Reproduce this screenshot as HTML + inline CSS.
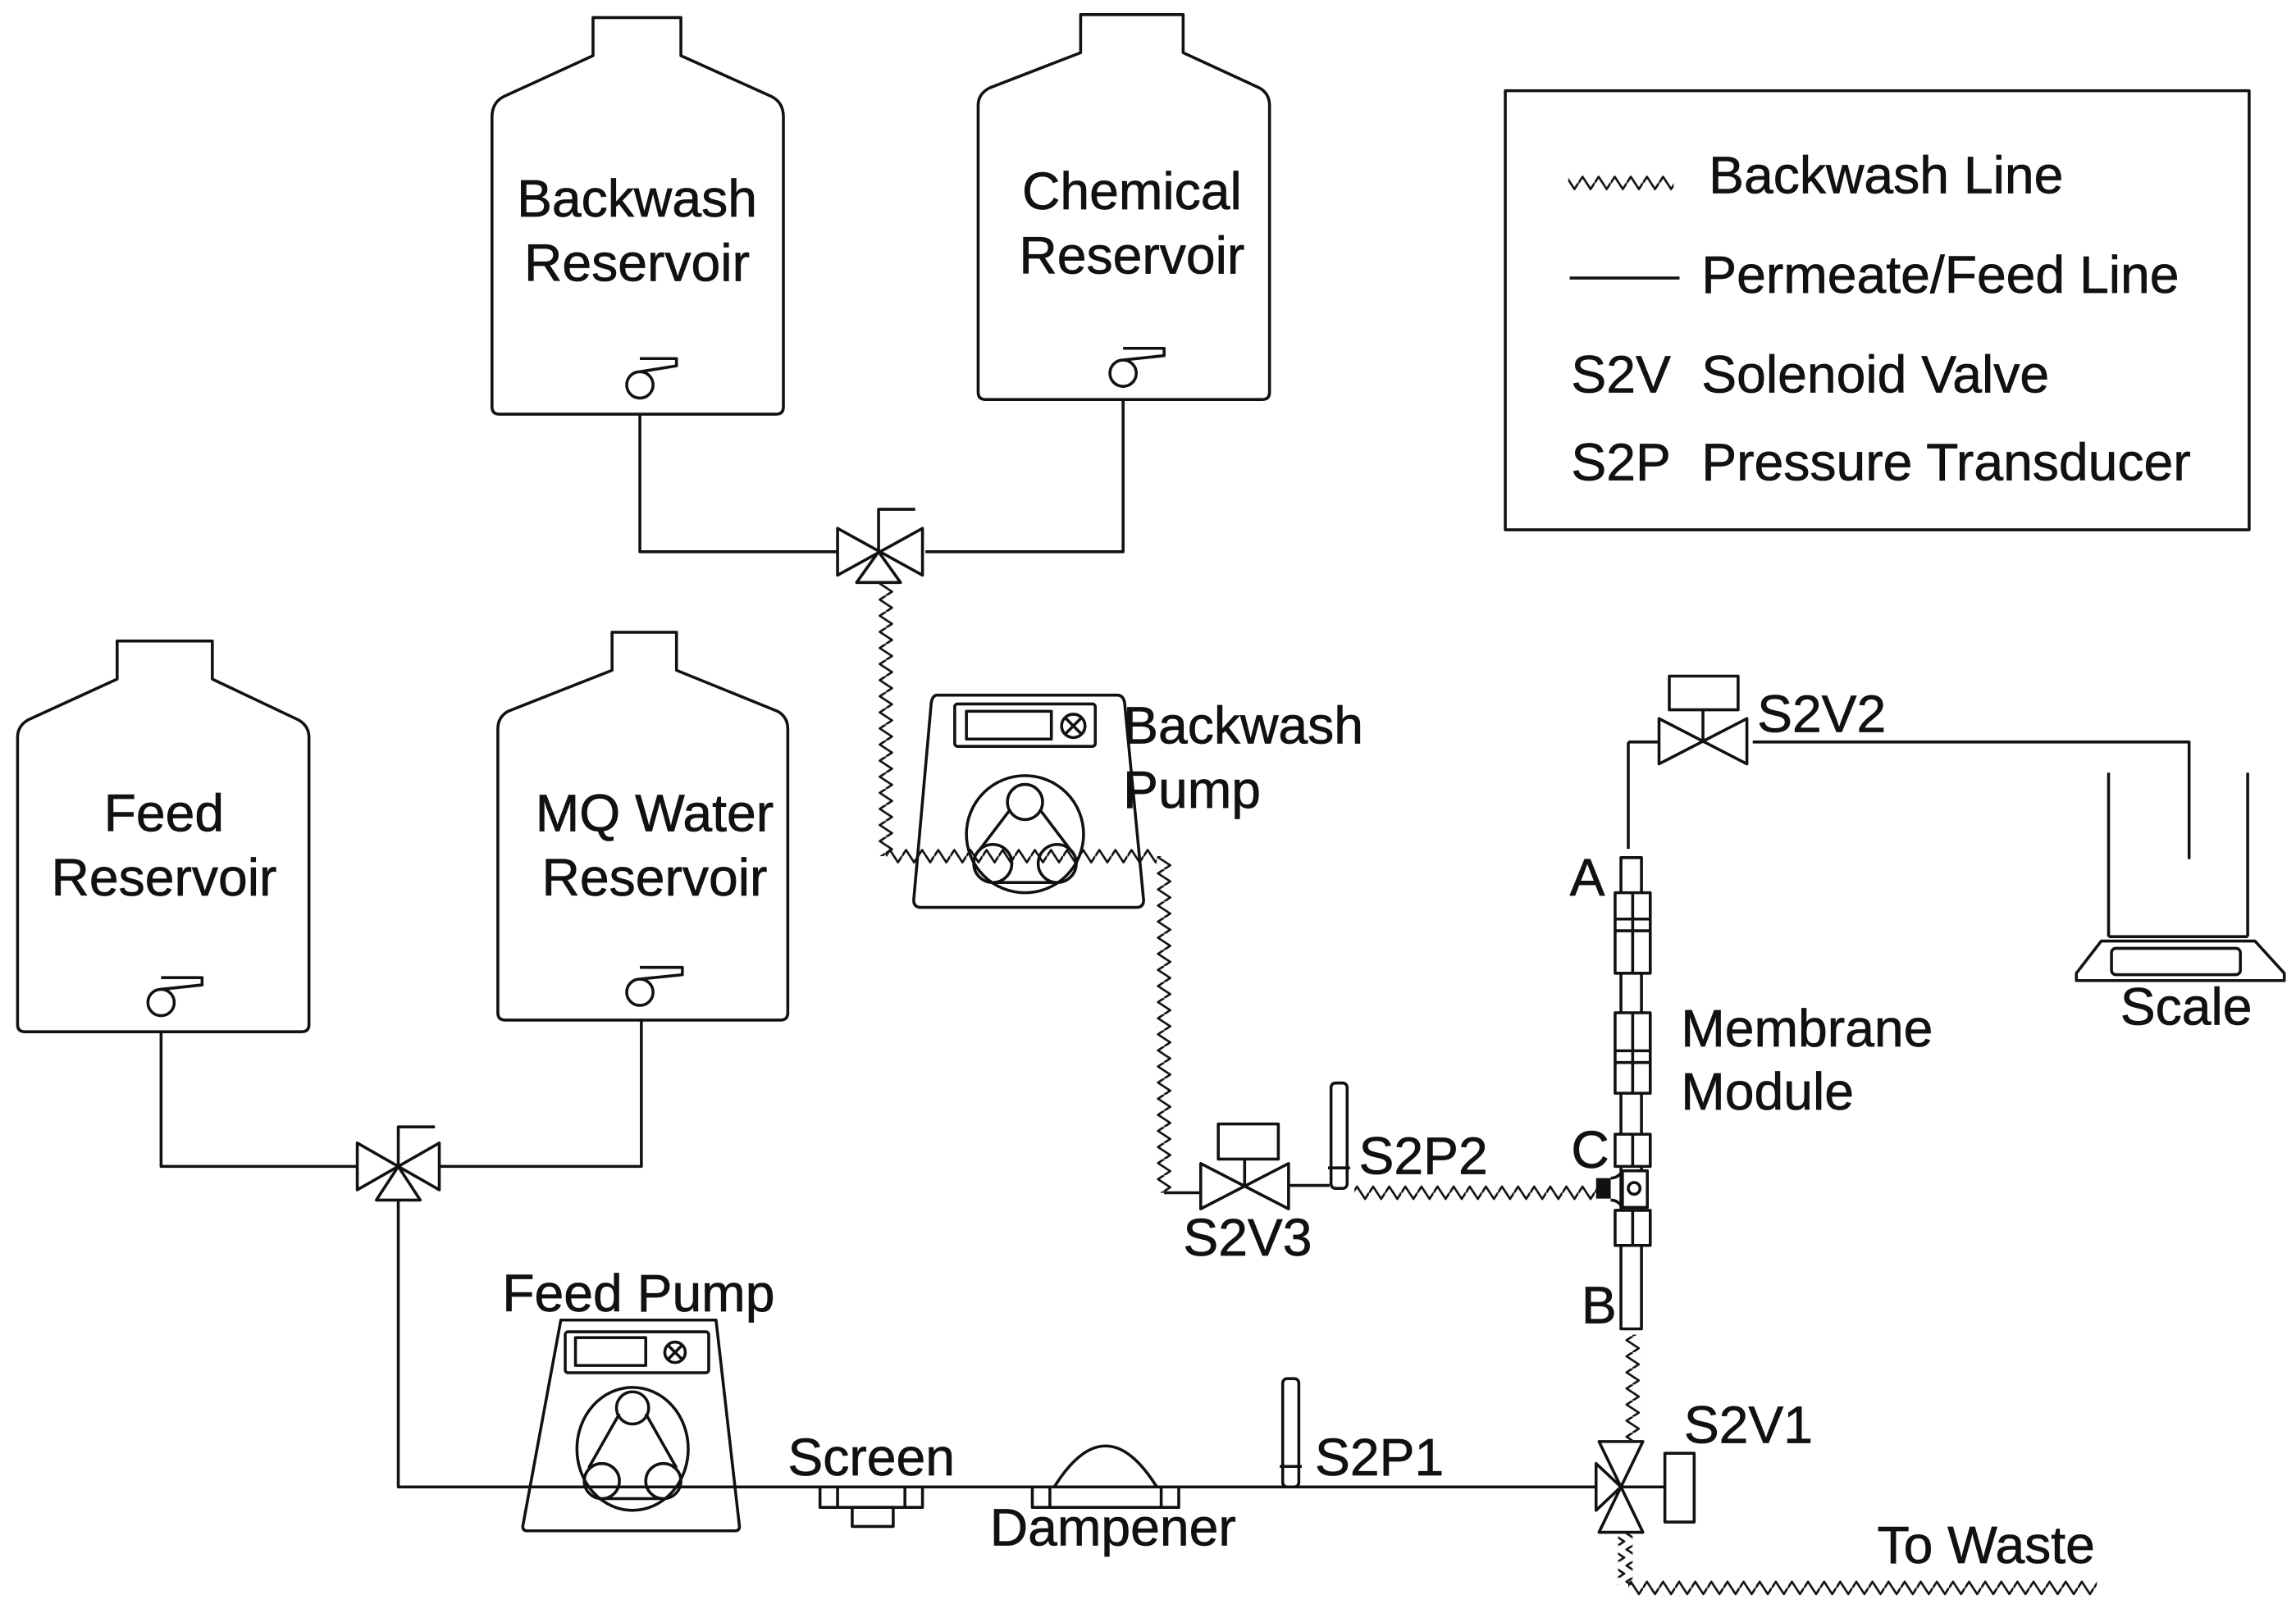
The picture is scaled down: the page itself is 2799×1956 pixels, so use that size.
<!DOCTYPE html>
<html><head><meta charset="utf-8"><style>
html,body{margin:0;padding:0;background:#fff;}
svg{display:block;}
text{font-family:"Liberation Sans",sans-serif;fill:#111;stroke:#111;stroke-width:0.4;}
</style></head><body>
<svg width="2799" height="1956" viewBox="0 0 1568 1096" preserveAspectRatio="none" xmlns="http://www.w3.org/2000/svg">
<defs>
<pattern id="zh" x="0" y="0" width="11" height="10" patternUnits="userSpaceOnUse"><path d="M0,5 L2.75,0.8 L8.25,9.2 L11,5" fill="none" stroke="#111" stroke-width="1.5"/></pattern>
<pattern id="zv" x="0" y="0" width="10" height="11" patternUnits="userSpaceOnUse"><path d="M5,0 L0.8,2.75 L9.2,8.25 L5,11" fill="none" stroke="#111" stroke-width="1.5"/></pattern>
</defs>
<g fill="none" stroke="#111" stroke-width="2" stroke-linejoin="round">
<path d="M405,12 H465 V38 L527,66 Q535,70 535,80 V278 Q535,283 530,283 H341 Q336,283 336,278 V80 Q336,70 344,66 L405,38 Z"/>
<path d="M738,10 H808 V36 L860,60 Q867,64 867,72 V268 Q867,273 862,273 H673 Q668,273 668,268 V72 Q668,64 676,60 L738,36 Z"/>
<path d="M80,438 H145 V464 L204,492 Q211,496 211,504 V700 Q211,705 206,705 H17 Q12,705 12,700 V504 Q12,496 19,492 L80,464 Z"/>
<path d="M418,432 H462 V458 L531,486 Q538,490 538,498 V692 Q538,697 533,697 H345 Q340,697 340,692 V498 Q340,490 347,486 L418,458 Z"/>
<circle cx="437" cy="263" r="9"/><path d="M437,254 L462,250 V245 H437"/>
<circle cx="767" cy="255" r="9"/><path d="M767,246 L795,243 V238 H767"/>
<circle cx="110" cy="685" r="9"/><path d="M110,676 L138,673 V668 H110"/>
<circle cx="437" cy="678" r="9"/><path d="M437,669 L466,666 V661 H437"/>
<path d="M437,283 V377 H572 M632,377 H767 V273"/>
<path d="M572,361 V393 L630,361 V393 Z M600,377 L585,398 H615 Z M600,377 V348 H625"/>
<path d="M110,705 V797 H244 M300,797 H438 V697"/>
<path d="M244,781 V813 L300,781 V813 Z M272,797 L257,820 H287 Z M272,797 V770 H297"/>
<path d="M272,820 V1016 H1090"/>
<path d="M640,475 H763 Q767,475 768,480 L781,615 Q781,620 776,620 H629 Q624,620 624,615 L636,480 Q637,475 640,475 Z"/>
<rect x="652" y="481" width="96" height="29" rx="2"/><rect x="660" y="486" width="58" height="19"/>
<circle cx="733" cy="496" r="8"/><path d="M728,491 L738,501 M738,491 L728,501"/>
<circle cx="700" cy="570" r="40"/>
<circle cx="700" cy="548" r="12"/><circle cx="678" cy="590" r="13"/><circle cx="722" cy="590" r="13"/>
<path d="M690,553 L668,582 M710,553 L732,582 M680,603 H720"/>
<path d="M383,902 H489 L505,1043 Q505,1046 502,1046 H360 Q357,1046 357,1043 Z"/>
<rect x="386" y="910" width="98" height="28" rx="2"/><rect x="393" y="914" width="48" height="19"/>
<circle cx="461" cy="924" r="7"/><path d="M456,919 L466,929 M466,919 L456,929"/>
<ellipse cx="432" cy="990" rx="38" ry="42"/>
<circle cx="432" cy="962" r="11"/><circle cx="411" cy="1012" r="12"/><circle cx="453" cy="1012" r="12"/>
<path d="M423,966 L402,1003 M441,966 L462,1003 M413,1024 H451"/>
<rect x="560" y="1016" width="70" height="14"/><path d="M572,1016 V1030 M618,1016 V1030"/>
<rect x="582" y="1030" width="28" height="13"/>
<rect x="705" y="1016" width="100" height="14"/><path d="M717,1016 V1030 M793,1016 V1030 M720,1016 Q755,960 790,1016"/>
<rect x="876" y="942" width="11" height="74" rx="3"/><path d="M874,1002 H889"/>
<path d="M1092,985 H1122 L1092,1047 H1122 Z M1107,1016 L1090,1000 V1032 Z M1107,1016 H1137"/>
<rect x="1137" y="993" width="20" height="47"/>
<path d="M1112,507 V580"/>
<rect x="1107" y="586" width="14" height="322"/>
<rect x="1103" y="610" width="24" height="55" fill="#fff"/><path d="M1103,628 H1127 M1103,636 H1127 M1115,610 V665"/>
<rect x="1103" y="692" width="24" height="55" fill="#fff"/><path d="M1103,718 H1127 M1103,726 H1127 M1115,692 V747"/>
<rect x="1103" y="775" width="24" height="22" fill="#fff"/><path d="M1115,775 V797"/>
<rect x="1108" y="800" width="17" height="25" fill="#fff"/><circle cx="1116" cy="812" r="4"/>
<rect x="1103" y="827" width="24" height="24" fill="#fff"/><path d="M1115,827 V851"/>
<path d="M1100,805 Q1105,805 1108,800 M1100,820 Q1105,820 1108,825"/>
<path d="M1112,507 H1133 M1133,491 V522 L1193,491 V522 Z M1163,507 V485 M1197,507 H1495 V587"/>
<rect x="1140" y="462" width="47" height="23"/>
<path d="M1440,528 V640 M1535,528 V640 M1440,640 H1535"/>
<path d="M1435,643 H1540 L1560,665 V670 H1418 V665 Z"/>
<rect x="1442" y="648" width="88" height="18" rx="3"/>
<path d="M820,795 V826 L880,795 V826 Z M850,810 V792 M795,815 H820 M880,810 H908"/>
<rect x="832" y="768" width="41" height="24"/>
<rect x="909" y="740" width="11" height="72" rx="3"/><path d="M907,798 H922"/>
<rect x="1028" y="62" width="508" height="300"/>
<path d="M1072,190 H1147"/>
</g>
<rect x="1090" y="805" width="10" height="14" fill="#111"/>
<rect x="600" y="398" width="10" height="187" fill="url(#zv)"/>
<rect x="605" y="580" width="185" height="10" fill="url(#zh)"/>
<rect x="790" y="585" width="10" height="230" fill="url(#zv)"/>
<rect x="925" y="810" width="165" height="10" fill="url(#zh)"/>
<rect x="1110" y="912" width="10" height="72" fill="url(#zv)"/>
<rect x="1105" y="1047" width="10" height="36" fill="url(#zv)"/>
<rect x="1112" y="1080" width="320" height="10" fill="url(#zh)"/>
<rect x="1071" y="120" width="72" height="10" fill="url(#zh)"/>
<g font-size="36" text-anchor="middle">
<text x="435" y="148">Backwash</text><text x="435" y="192">Reservoir</text>
<text x="773" y="143">Chemical</text><text x="773" y="187">Reservoir</text>
<text x="112" y="568">Feed</text><text x="112" y="612">Reservoir</text>
<text x="447" y="568">MQ Water</text><text x="447" y="612">Reservoir</text>
</g>
<g font-size="36">
<text x="767" y="508">Backwash</text><text x="767" y="552">Pump</text>
<text x="343" y="896">Feed Pump</text>
<text x="538" y="1008">Screen</text>
<text x="676" y="1056">Dampener</text>
<text x="898" y="1008">S2P1</text>
<text x="1150" y="986">S2V1</text>
<text x="1282" y="1068">To Waste</text>
<text x="1072" y="612">A</text>
<text x="1080" y="904">B</text>
<text x="1073" y="798">C</text>
<text x="1148" y="715">Membrane</text><text x="1148" y="758">Module</text>
<text x="1200" y="500">S2V2</text>
<text x="1448" y="700">Scale</text>
<text x="808" y="858">S2V3</text>
<text x="928" y="802">S2P2</text>
<text x="1167" y="132">Backwash Line</text>
<text x="1162" y="200">Permeate/Feed Line</text>
<text x="1073" y="268">S2V</text><text x="1162" y="268">Solenoid Valve</text>
<text x="1073" y="328">S2P</text><text x="1162" y="328">Pressure Transducer</text>
</g>
</svg>
</body></html>
